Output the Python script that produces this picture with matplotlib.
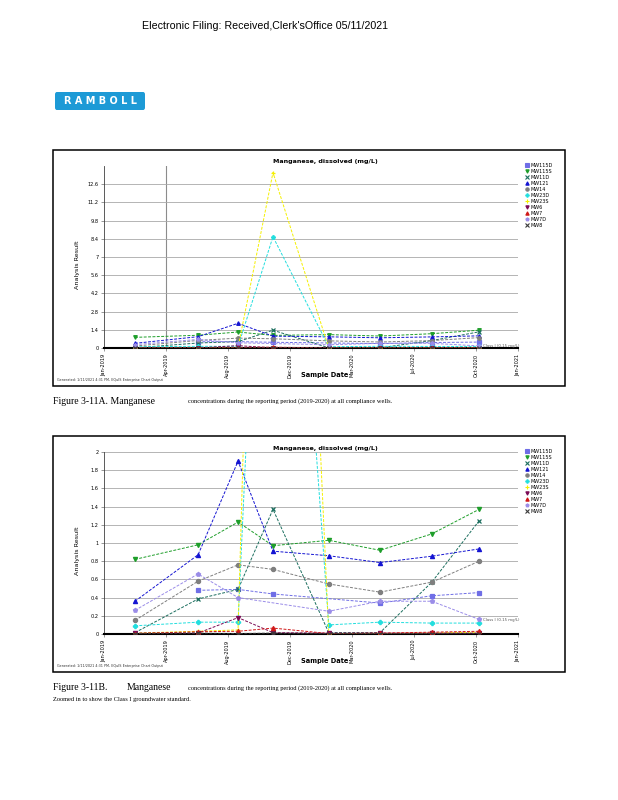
import matplotlib
matplotlib.use("Agg")
import matplotlib.pyplot as plt
import matplotlib.dates as mdates
from matplotlib.lines import Line2D
from matplotlib.patches import Rectangle, FancyBboxPatch
from matplotlib.ticker import FixedLocator, FuncFormatter
import numpy as np
import pandas as pd

nan = np.nan

# sampling events
sample_dates = ["2019-02-25", "2019-06-17", "2019-08-27", "2019-10-28",
                "2020-02-04", "2020-05-05", "2020-08-05", "2020-10-28"]

wells = ["MW115D", "MW115S", "MW11D", "MW121", "MW14", "MW23D",
         "MW23S", "MW6", "MW7", "MW7D", "MW8"]

# dissolved manganese, mg/L
mw115d = [nan, 0.48, 0.49, 0.44, nan, 0.34, 0.42, 0.455]
mw115s = [0.82, 0.98, 1.23, 0.97, 1.03, 0.92, 1.10, 1.37]
mw11d = [0.015, 0.385, 0.49, 1.37, 0.015, 0.015, 0.57, 1.245]
mw121 = [0.36, 0.87, 1.90, 0.91, 0.86, 0.785, 0.855, 0.935]
mw14 = [0.15, 0.58, 0.76, 0.71, 0.55, 0.46, 0.57, 0.80]
mw23d = [0.09, 0.13, 0.13, 8.56, 0.10, 0.13, 0.12, 0.12]
mw23s = [0.01, 0.03, 0.045, 13.5, 0.005, 0.005, 0.01, 0.02]
mw6 = [0.01, 0.01, 0.18, 0.015, 0.01, 0.01, 0.01, 0.01]
mw7 = [0.005, 0.025, 0.03, 0.065, 0.005, 0.01, 0.02, 0.03]
mw7d = [0.26, 0.66, 0.40, nan, 0.25, 0.36, 0.36, 0.16]
mw8 = [0.005, 0.01, 0.005, 0.01, 0.005, 0.005, 0.005, 0.005]

class_i_std = 0.15

tick_dates = ["2019-01-01", "2019-04-21", "2019-08-09", "2019-11-27",
              "2020-03-16", "2020-07-04", "2020-10-22", "2021-01-05"]
tick_labels = ["Jan-2019", "Apr-2019", "Aug-2019", "Dec-2019",
               "Mar-2020", "Jul-2020", "Oct-2020", "Jan-2021"]

values = {
    "MW115D": mw115d, "MW115S": mw115s, "MW11D": mw11d, "MW121": mw121,
    "MW14": mw14, "MW23D": mw23d, "MW23S": mw23s, "MW6": mw6,
    "MW7": mw7, "MW7D": mw7d, "MW8": mw8,
}

styles = {
    "MW115D": ("s", "#6f6ee6"),
    "MW115S": ("v", "#1e9e2a"),
    "MW11D": ("x", "#1b6e5e"),
    "MW121": ("^", "#1414d2"),
    "MW14": ("o", "#7f7f7f"),
    "MW23D": ("P", "#22dede"),
    "MW23S": ("+", "#f5f000"),
    "MW6": ("v", "#7a0a55"),
    "MW7": ("^", "#d01818"),
    "MW7D": ("p", "#9a8ce8"),
    "MW8": ("x", "#3a3a3a"),
}

W, H = 618, 800
date_x = mdates.date2num(pd.to_datetime(sample_dates))
tick_x = mdates.date2num(pd.to_datetime(tick_dates))


def fx(px):
    return px / W


def fy(py):
    return 1 - py / H


def draw_chart(fig, top, ymax, yticks, ms):
    # outer frame
    fig.add_artist(Rectangle((fx(53), fy(top + 236)), fx(512), 236 / H,
                             transform=fig.transFigure, fill=False,
                             lw=1.1, ec="black"))
    ax = fig.add_axes([fx(104), fy(top + 198), fx(414), 182 / H])
    ax.set_xlim(tick_x[0], tick_x[-1])
    ax.set_ylim(0, ymax)

    for well in wells:
        s = pd.Series(values[well], index=date_x).dropna()
        marker, color = styles[well]
        ax.plot(s.index, s.values, color=color, lw=0.7,
                ls=(0, (3, 1.5)), marker=marker, ms=ms, mew=0.9,
                zorder=3)

    ax.yaxis.set_major_locator(FixedLocator(yticks))
    ax.yaxis.set_major_formatter(FuncFormatter(lambda v, p: f"{v:g}"))
    ax.xaxis.set_major_locator(FixedLocator(tick_x))
    ax.set_xticklabels(tick_labels, rotation=90)
    ax.grid(axis="y", color="#a8a8a8", lw=0.6)
    ax.tick_params(axis="both", labelsize=3.6, length=2.5, width=0.5,
                   color="#707070", pad=1.5)
    for side in ("top", "right"):
        ax.spines[side].set_visible(False)
    ax.spines["left"].set_color("#404040")
    ax.spines["left"].set_linewidth(0.6)
    ax.spines["bottom"].set_linewidth(1.5)

    ax.text(mdates.date2num(pd.Timestamp("2020-11-03")), class_i_std,
            "Class I (0.15 mg/L)", fontsize=2.8, color="#555555",
            va="center", ha="left", clip_on=False)

    fig.text(fx(325), fy(top + 12), "Manganese, dissolved (mg/L)",
             fontsize=4.6, fontweight="bold", ha="center", va="center")
    fig.text(fx(78), fy(top + 115), "Analysis Result", rotation=90,
             fontsize=4.6, ha="center", va="center")
    fig.text(fx(325), fy(top + 225), "Sample Date", fontsize=4.8,
             fontweight="bold", ha="center", va="center")
    fig.text(fx(57), fy(top + 230),
             "Generated: 1/11/2021 4:31 PM, EQuIS Enterprise Chart Output",
             fontsize=2.4, ha="left", va="center", color="#333333")

    handles = [Line2D([], [], ls="none", marker=styles[w][0],
                      color=styles[w][1], ms=2.4, mew=0.8) for w in wells]
    fig.legend(handles, wells, loc="upper left",
               bbox_to_anchor=(fx(525), fy(top + 13)),
               bbox_transform=fig.transFigure, frameon=False,
               fontsize=3.5, handlelength=0.7, handletextpad=0.4,
               labelspacing=0.2, borderpad=0, borderaxespad=0)
    return ax


fig = plt.figure(figsize=(W / 100, H / 100), dpi=100)

fig.text(fx(265), fy(26), "Electronic Filing: Received,Clerk'sOffice 05/11/2021",
         fontsize=7.7, ha="center", va="center",
         family=["Liberation Sans Narrow", "Liberation Sans"])

fig.add_artist(FancyBboxPatch((fx(55), fy(110)), fx(90), 18 / H,
                              boxstyle="round,pad=0,rounding_size=0.003",
                              transform=fig.transFigure, fc="#1d9ad6",
                              ec="none"))
fig.text(fx(100), fy(101), "R A M B O L L", color="white", fontsize=7,
         fontweight="bold", ha="center", va="center")

ax1 = draw_chart(fig, 150, 14, np.arange(0, 12.7, 1.4), 2.6)
ax1.axvline(tick_x[1], color="#8c8c8c", lw=0.8, zorder=1)
ax2 = draw_chart(fig, 436, 2, np.arange(0, 2.01, 0.2), 3.0)

serif = ["Liberation Serif", "DejaVu Serif"]
fig.text(fx(53), fy(401), "Figure 3-11A. Manganese", fontsize=7,
         family=serif, va="center")
fig.text(fx(188), fy(401),
         "concentrations during the reporting period (2019-2020) at all compliance wells.",
         fontsize=4.6, family=serif, va="center")
fig.text(fx(53), fy(688), "Figure 3-11B.", fontsize=7, family=serif,
         va="center")
fig.text(fx(127), fy(688), "Manganese", fontsize=7, family=serif,
         va="center")
fig.text(fx(188), fy(688),
         "concentrations during the reporting period (2019-2020) at all compliance wells.",
         fontsize=4.6, family=serif, va="center")
fig.text(fx(53), fy(699), "Zoomed in to show the Class I groundwater standard.",
         fontsize=4.6, family=serif, va="center")

fig.savefig("out.png", dpi=100)
